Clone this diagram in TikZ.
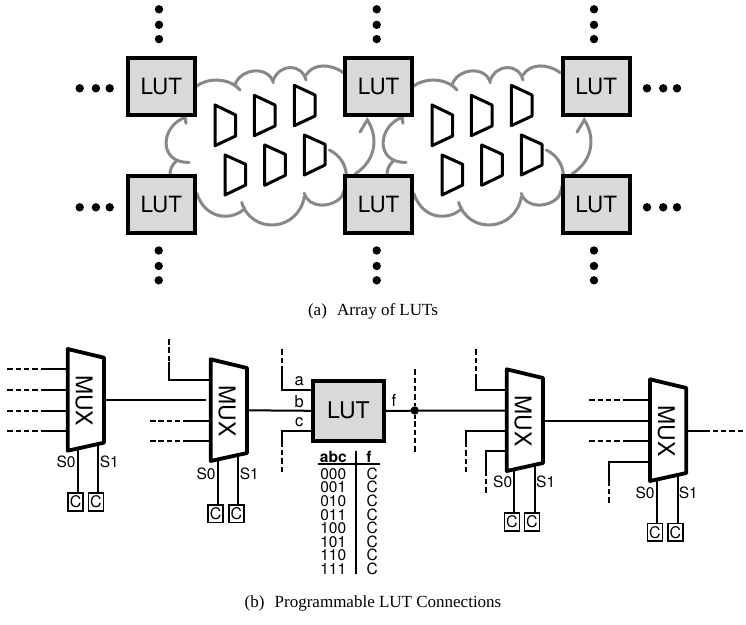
\documentclass[tikz,border=0pt]{standalone}
\usepackage{fontspec}
\setmainfont{Liberation Serif}
\setsansfont{TeX Gyre Heros}
\tikzset{
  lutbig/.style={draw,fill=lutgray,line width=4pt,minimum width=67.3pt,minimum height=57.3pt,inner sep=0pt,font=\sffamily\fontsize{22.4}{24}\selectfont},
  lutmid/.style={draw,fill=lutgray,line width=4pt,minimum width=70.5pt,minimum height=59.5pt,inner sep=0pt,font=\sffamily\fontsize{23}{24}\selectfont},
  wire/.style={line width=2pt},
  dashwire/.style={line width=2pt,dash pattern=on 5.5pt off 2.8pt},
  cloudline/.style={draw=cloudgray,line width=3pt,line cap=round},
  trap/.style={draw=black,line width=3pt,line join=round,fill=white},
  muxline/.style={draw=black,line width=3.8pt,line join=round,fill=white},
  muxtext/.style={rotate=-90,inner sep=0pt,font=\sffamily\fontsize{23}{24}\selectfont},
  cbox/.style={draw,line width=1.8pt,fill=white,minimum width=15pt,minimum height=17.6pt,inner sep=0pt,font=\sffamily\fontsize{16}{16}\selectfont},
  lab/.style={inner sep=0pt,font=\sffamily\fontsize{15.5}{16}\selectfont},
  pinlab/.style={inner sep=0pt,font=\sffamily\fontsize{16.5}{17}\selectfont},
  tabtext/.style={inner sep=0pt,font=\sffamily\fontsize{15.5}{16}\selectfont},
  captext/.style={inner sep=0pt,font=\fontsize{17}{19}\selectfont},
  junction/.style={circle,fill=black,inner sep=0pt,minimum size=8.4pt},
}
\definecolor{lutgray}{HTML}{D9D9D9}
\definecolor{cloudgray}{HTML}{888888}
\newcommand{\cloudshape}[1]{%
  \begin{scope}[shift={(#1,0)},x=0.33333pt,y=-0.33333pt]
    \draw[cloudline] (410,258) .. controls (440,235) and (505,230) .. (540,270);
    \draw[cloudline] (525,255) .. controls (540,205) and (625,195) .. (640,248);
    \draw[cloudline] (640,240) .. controls (660,190) and (725,190) .. (738,240);
    \draw[cloudline] (738,225) .. controls (760,190) and (810,190) .. (850,218);
    \draw[cloudline] (900,396) -- (922,360) .. controls (955,410) and (950,480) .. (885,522);
    \draw[cloudline] (808,450) .. controls (840,465) and (865,500) .. (858,545) .. controls (855,565) and (850,580) .. (845,590);
    \draw[cloudline] (845,590) .. controls (815,625) and (745,625) .. (733,580);
    \draw[cloudline] (733,590) .. controls (715,695) and (575,705) .. (545,607);
    \draw[cloudline] (555,625) .. controls (520,660) and (440,665) .. (410,580);
    \draw[cloudline] (378,370) -- (375,352) .. controls (300,380) and (295,490) .. (387,487);
    \draw[cloudline] (350,482) .. controls (335,495) and (330,510) .. (330,522);
    \draw[trap] (465,315) -- (527,345) -- (527,408) -- (465,437) -- cycle;
    \draw[trap] (583,286) -- (645,315) -- (645,378) -- (583,407) -- cycle;
    \draw[trap] (703,256) -- (765,285) -- (765,348) -- (703,377) -- cycle;
    \draw[trap] (495,465) -- (557,493) -- (557,555) -- (495,585) -- cycle;
    \draw[trap] (614,435) -- (676,463) -- (676,526) -- (614,556) -- cycle;
    \draw[trap] (733,405) -- (795,433) -- (795,495) -- (733,525) -- cycle;
  \end{scope}}
\newcommand{\muxbox}[3]{%
  \draw[muxline] (#2,#3) -- ++(36.3,8.7) -- ++(0,85) -- ++(-36.3,8) -- cycle;
  \node[muxtext] (#1) at (#2+16.3,#3+51.6) {MUX};}
\newcommand{\dotsV}[2]{\foreach \yy in {0,15.5,29.8}{\fill (#1,#2+\yy) circle (4.2pt);}}
\newcommand{\dotsH}[2]{\foreach \xx in {0,16.2,30}{\fill (#1+\xx,#2) circle (4.2pt);}}
\begin{document}
\begin{tikzpicture}[x=1pt,y=-1pt]
\useasboundingbox (0,0) rectangle (746,624);
% ---------- array of LUTs
\cloudshape{60}
\cloudshape{277}
\node[lutbig] (tl) at (161.3,86.3) {LUT};
\node[lutbig] (tm) at (378.6,86.3) {LUT};
\node[lutbig] (tr) at (596.2,86.3) {LUT};
\node[lutbig] (bl) at (161.3,204.5) {LUT};
\node[lutbig] (bm) at (378.6,204.5) {LUT};
\node[lutbig] (br) at (596.2,204.5) {LUT};
\dotsV{159}{9.3} \dotsV{376.7}{9.3} \dotsV{594}{9.3}
\dotsV{158.7}{250.5} \dotsV{376.7}{250.5} \dotsV{594}{250.5}
\dotsH{79.7}{88.3} \dotsH{79.7}{207.3}
\dotsH{647}{88.3} \dotsH{647}{207.3}
\node[captext] (capa) at (373,311) {(a)\hspace{0.6em}Array of LUTs};
% ---------- LUT connections: nodes
\node[lutmid] (lut) at (348.4,410.8) {LUT};
\node[junction] (j) at (414.7,410.5) {};
% free ends
\coordinate (m2a) at (169.3,339); \coordinate (m2c) at (150,420.7); \coordinate (m2d) at (150,441.3);
\coordinate (la) at (282,349.3); \coordinate (lc) at (282,472);
\coordinate (jt) at (414.7,369.3); \coordinate (jb) at (414.7,451.7);
\coordinate (m3a) at (475.7,349.3); \coordinate (m3c) at (465.7,472.3); \coordinate (m3d) at (486,492.7);
\coordinate (m4a) at (589.3,400.3); \coordinate (m4c) at (589.3,441); \coordinate (m4d) at (609,502.7);
\coordinate (m4o) at (743,430.7);
% wires of MUX 1
\foreach \yy in {369.3,390,410.7,431}{
  \draw[dashwire] (7.3,\yy) -- (44,\yy);
  \draw[wire] (42,\yy) -- (70,\yy);}
\draw[wire] (104,400.3) -- (205.6,400.3);
% wires of MUX 2
\draw[dashwire] (m2a) -- (169.3,364);
\draw[wire] (169.3,362) -- (169.3,380) -- (212,380);
\draw[dashwire] (m2c) -- (186,420.7); \draw[wire] (185,420.7) -- (212,420.7);
\draw[dashwire] (m2d) -- (186,441.3); \draw[wire] (185,441.3) -- (212,441.3);
\draw[wire] (246,410.3) -- (lut.west);
% wires of LUT
\draw[dashwire] (la) -- (282,371); \draw[wire] (282,369) -- (282,390) -- (lut.west |- 0,390);
\draw[dashwire] (lc) -- (282,445); \draw[wire] (282,447) -- (282,431) -- (lut.west |- 0,431);
\draw[wire] (lut.east) -- (508,410.5);
\draw[dashwire] (jt) -- (j.north);
\draw[dashwire] (jb) -- (j.south);
% wires of MUX 3
\draw[dashwire] (m3a) -- (475.7,376); \draw[wire] (475.7,374) -- (475.7,390) -- (508,390);
\draw[dashwire] (m3c) -- (465.7,445); \draw[wire] (465.7,447) -- (465.7,430.7) -- (508,430.7);
\draw[dashwire] (m3d) -- (486,473); \draw[wire] (486,475) -- (486,451.3) -- (508,451.3);
\draw[wire] (542,420.7) -- (652,420.7);
% wires of MUX 4
\draw[dashwire] (m4a) -- (627,400.3); \draw[wire] (625,400.3) -- (652,400.3);
\draw[dashwire] (m4c) -- (627,441); \draw[wire] (625,441) -- (652,441);
\draw[dashwire] (m4d) -- (609,483); \draw[wire] (609,485) -- (609,461.7) -- (652,461.7);
\draw[wire] (686,430.7) -- (710,430.7);
\draw[dashwire] (m4o) -- (709,430.7);
% C boxes and select lines
\node[cbox] (c1a) at (75.7,502) {C};  \node[cbox] (c1b) at (96,502) {C};
\node[cbox] (c2a) at (215.7,513.7) {C}; \node[cbox] (c2b) at (236.3,513.7) {C};
\node[cbox] (c3a) at (512,522) {C};  \node[cbox] (c3b) at (532,522) {C};
\node[cbox] (c4a) at (655,532.2) {C}; \node[cbox] (c4b) at (675.3,532.2) {C};
\foreach \sx/\sy/\cn in {77.7/440/c1a,98.3/435/c1b,218.3/450/c2a,238.3/445/c2b,514.3/460/c3a,534.7/455/c3b,657.3/470/c4a,677.7/465/c4b}{
  \coordinate (s) at (\sx,\sy);
  \draw[wire] (s) -- (s |- \cn.north);}
% MUX bodies
\muxbox{mux1}{67.7}{349}
\muxbox{mux2}{210.7}{359.3}
\muxbox{mux3}{506.7}{369.3}
\muxbox{mux4}{650}{379.3}
% labels
\node[lab] (s10) at (66,462.3) {S0}; \node[lab] (s11) at (109.3,462.3) {S1};
\node[lab] (s20) at (206,474) {S0}; \node[lab] (s21) at (249.3,474) {S1};
\node[lab] (s30) at (502.7,482.3) {S0}; \node[lab] (s31) at (545.7,482.3) {S1};
\node[lab] (s40) at (645,492.7) {S0}; \node[lab] (s41) at (688.3,492.7) {S1};
\node[pinlab] (pa) at (299.3,381.5) {a};
\node[pinlab] (pb) at (299.3,401.5) {b};
\node[pinlab] (pc) at (299.3,422.5) {c};
\node[pinlab] (pf) at (394,400.5) {f};
% truth table
\node[tabtext] (th1) at (333.3,457.3) {\bfseries abc};
\node[tabtext] (th2) at (369,457.3) {\bfseries f};
\draw[wire] (318.3,464) -- (380,464);
\draw[wire] (356.3,450.7) -- (356.3,574);
\foreach \n/\v/\yy in {1/000/474,2/001/487.3,3/010/501,4/011/515,5/100/528.3,6/101/542,7/110/555.3,8/111/569}{
  \node[tabtext] (ta\n) at (333.3,\yy) {\v};
  \node[tabtext] (tb\n) at (372.3,\yy) {C};}
\node[captext] (capb) at (373,603) {(b)\hspace{0.6em}Programmable LUT Connections};
\end{tikzpicture}
\end{document}
